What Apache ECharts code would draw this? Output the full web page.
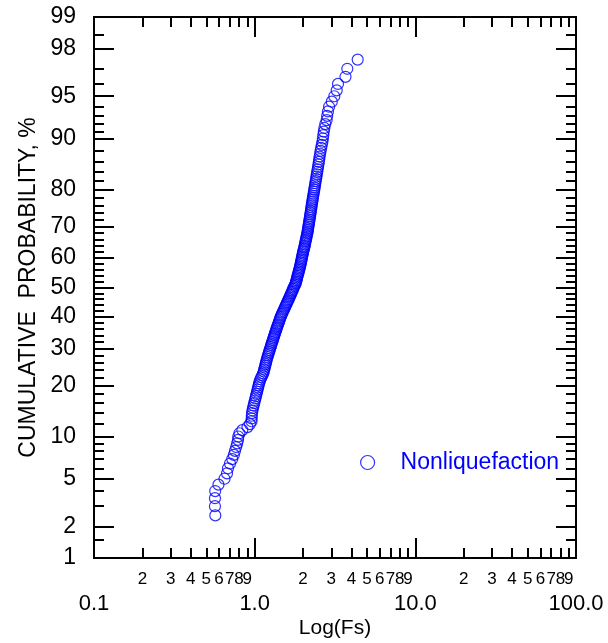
<!DOCTYPE html>
<html><head><meta charset="utf-8">
<script src="https://cdn.jsdelivr.net/npm/echarts@6/dist/echarts.min.js"></script>
<style>html,body{margin:0;padding:0;background:#fff}#c{width:608px;height:643px}</style>
</head><body><div id="c"></div>
<script>
// ---- data ----
const seriesName = 'Nonliquefaction';
const probabilities = [
  2.5,3,3.5,4,4.5,5,5.5,6,6.5,7,
  7.5,8,8.5,9,9.5,10,10.5,11,11.5,12,
  12.5,13,13.5,14,14.5,15,15.5,16,16.5,17,
  17.5,18,18.5,19,19.5,20,20.5,21,21.5,22,
  22.5,23,23.5,24,24.5,25,25.5,26,26.5,27,
  27.5,28,28.5,29,29.5,30,30.5,31,31.5,32,
  32.5,33,33.5,34,34.5,35,35.5,36,36.5,37,
  37.5,38,38.5,39,39.5,40,40.5,41,41.5,42,
  42.5,43,43.5,44,44.5,45,45.5,46,46.5,47,
  47.5,48,48.5,49,49.5,50,
  50.5,51,51.5,52,52.5,53,53.5,54,54.5,55,
  55.5,56,56.5,57,57.5,58,58.5,59,59.5,60,
  60.5,61,61.5,62,62.5,63,63.5,64,64.5,65,
  65.5,66,66.5,67,67.5,68,68.5,69,69.5,70,
  70.5,71,71.5,72,72.5,73,73.5,74,74.5,75,
  75.5,76,76.5,77,77.5,78,78.5,79,79.5,80,
  80.5,81,81.5,82,82.5,83,83.5,84,84.5,85,
  85.5,86,86.5,87,87.5,88,88.5,89,89.5,90,
  90.5,91,91.5,92,92.5,93,93.5,94,94.5,95,
  95.5,96,96.5,97,97.5
];
const fsValues = [
  0.569,0.566,0.566,0.568,0.595,0.649,0.673,0.682,0.702,0.725,
  0.742,0.754,0.767,0.778,0.788,0.791,0.804,0.838,0.902,0.934,
  0.956,0.958,0.960,0.962,0.969,0.976,0.985,0.993,1.002,1.010,
  1.018,1.027,1.035,1.043,1.050,1.058,1.066,1.075,1.086,1.100,
  1.116,1.130,1.140,1.146,1.155,1.163,1.170,1.178,1.185,1.193,
  1.202,1.210,1.221,1.230,1.238,1.249,1.258,1.267,1.276,1.286,
  1.297,1.306,1.316,1.325,1.335,1.344,1.356,1.365,1.375,1.387,
  1.397,1.409,1.419,1.430,1.440,1.450,1.465,1.477,1.492,1.507,
  1.522,1.538,1.551,1.567,1.583,1.597,1.612,1.629,1.643,1.659,
  1.673,1.690,1.705,1.722,1.737,1.747,
  1.770,1.784,1.803,1.811,1.822,1.832,1.840,1.850,1.861,1.872,
  1.883,1.893,1.904,1.912,1.923,1.932,1.940,1.948,1.960,1.965,
  1.974,1.985,1.994,2.002,2.011,2.028,2.037,2.046,2.057,2.066,
  2.075,2.087,2.096,2.105,2.117,2.130,2.135,2.145,2.151,2.160,
  2.169,2.178,2.185,2.194,2.203,2.213,2.219,2.229,2.239,2.248,
  2.255,2.264,2.274,2.284,2.294,2.304,2.314,2.327,2.337,2.351,
  2.361,2.374,2.385,2.398,2.412,2.423,2.437,2.451,2.465,2.479,
  2.494,2.508,2.522,2.537,2.555,2.573,2.592,2.618,2.640,2.659,
  2.674,2.694,2.716,2.752,2.807,2.827,2.860,2.905,3.020,3.130,
  3.240,3.301,3.675,3.771,4.378
];
const yMajorTicks = [1,2,5,10,20,30,40,50,60,70,80,90,95,98,99];
const yMajorLabels = ['1','2','5','10','20','30','40','50','60','70','80','90','95','98','99'];
const yMinorTicks = [1.5,3,4,6,7,8,9,12,14,16,18,22,24,26,28,32,34,36,38,42,44,46,48,
  52,54,56,58,62,64,66,68,72,74,76,78,82,84,86,88,91,92,93,94,96,97,98.5];
const xMajorTicks = [0.1,1,10,100];
const xMajorLabels = ['0.1','1.0','10.0','100.0'];
const xMinorTicks = [0.2,0.3,0.4,0.5,0.6,0.7,0.8,0.9,2,3,4,5,6,7,8,9,20,30,40,50,60,70,80,90];
const xMinorLabels = ['2','3','4','5','6','7','8','9','2','3','4','5','6','7','8','9','2','3','4','5','6','7','8','9'];
const xTitle = 'Log(Fs)';
const yTitle = 'CUMULATIVE  PROBABILITY, %';

// ---- scale helpers (normal-probability and log transforms) ----
function probit(p){
  const a=[-3.969683028665376e+01,2.209460984245205e+02,-2.759285104469687e+02,1.383577518672690e+02,-3.066479806614716e+01,2.506628277459239e+00];
  const b=[-5.447609879822406e+01,1.615858368580409e+02,-1.556989798598866e+02,6.680131188771972e+01,-1.328068155288572e+01];
  const c=[-7.784894002430293e-03,-3.223964580411365e-01,-2.400758277161838e+00,-2.549732539343734e+00,4.374664141464968e+00,2.938163982698783e+00];
  const d=[7.784695709041462e-03,3.224671290700398e-01,2.445134137142996e+00,3.754408661907416e+00];
  const pl=0.02425, ph=1-pl; let q,r;
  if(p<pl){q=Math.sqrt(-2*Math.log(p));return (((((c[0]*q+c[1])*q+c[2])*q+c[3])*q+c[4])*q+c[5])/((((d[0]*q+d[1])*q+d[2])*q+d[3])*q+1);}
  if(p<=ph){q=p-0.5;r=q*q;return (((((a[0]*r+a[1])*r+a[2])*r+a[3])*r+a[4])*r+a[5])*q/(((((b[0]*r+b[1])*r+b[2])*r+b[3])*r+b[4])*r+1);}
  q=Math.sqrt(-2*Math.log(1-p));return -(((((c[0]*q+c[1])*q+c[2])*q+c[3])*q+c[4])*q+c[5])/((((d[0]*q+d[1])*q+d[2])*q+d[3])*q+1);
}
const zOf = p => probit(p/100);
const yMajZ = yMajorTicks.map(zOf), yMinZ = yMinorTicks.map(zOf);
const xMajL = xMajorTicks.map(Math.log10), xMinL = xMinorTicks.map(Math.log10);
const yMin = yMajZ[0], yMax = yMajZ[yMajZ.length-1];
const xMin = xMajL[0], xMax = xMajL[xMajL.length-1];
function lookup(vals, labels){
  return v => { let bi=-1, bd=1e9; for(let i=0;i<vals.length;i++){ const dd=Math.abs(vals[i]-v); if(dd<bd){bd=dd;bi=i;} } return bd<0.01 ? labels[bi] : ''; };
}
// split minor labels into groups so that no two neighbours on one axis touch
const splitAt = 20; // first 20 minor labels on one axis, the rest alternate on two axes
const minorGroupA = xMinL.slice(0, splitAt);
const minorGroupB = xMinL.slice(splitAt).filter((v,i)=>i%2===0);
const minorGroupC = xMinL.slice(splitAt).filter((v,i)=>i%2===1);

const FONT = 'Arial, "Liberation Sans", sans-serif';
const lineS = {color:'#000', width:2};
function xAx(pos, ticks, len, labelVals, extra){
  return Object.assign({
    type:'value', position:pos, min:xMin, max:xMax,
    axisLine:{show:true, onZero:false, lineStyle:lineS},
    axisTick: ticks ? {show:true, inside:true, length:len, customValues:ticks, lineStyle:lineS} : {show:false},
    axisLabel: labelVals ? {show:true, customValues:labelVals, hideOverlap:false, showMinLabel:true, showMaxLabel:true, color:'#000', fontFamily:FONT} : {show:false},
    splitLine:{show:false}
  }, extra||{});
}
function yAx(pos, ticks, len, labelVals, extra){
  return Object.assign({
    type:'value', position:pos, min:yMin, max:yMax,
    axisLine:{show:true, onZero:false, lineStyle:lineS},
    axisTick:{show:true, inside:true, length:len, customValues:ticks, lineStyle:lineS},
    axisLabel: labelVals ? {show:true, customValues:labelVals, formatter:lookup(yMajZ, yMajorLabels), hideOverlap:false, showMinLabel:true, showMaxLabel:true, color:'#000', fontFamily:FONT} : {show:false},
    splitLine:{show:false}
  }, extra||{});
}
const minorFmt = lookup(xMinL, xMinorLabels);
function minorLabelAxis(ticks, vals){
  const ax = xAx('bottom', ticks, 10, vals);
  ax.axisLabel.formatter = minorFmt; ax.axisLabel.fontSize = 17; ax.axisLabel.margin = 13;
  return ax;
}
const xa0 = minorLabelAxis(xMinL, minorGroupA);
const xa4 = minorLabelAxis(null, minorGroupB);
const xa5 = minorLabelAxis(null, minorGroupC);
const xa1 = xAx('bottom', xMajL, 20, xMajL, {
  name:xTitle, nameLocation:'middle', nameGap:60, nameMoveOverlap:false,
  nameTextStyle:{fontSize:21, color:'#000', fontFamily:FONT}
});
xa1.axisLabel.formatter = lookup(xMajL, xMajorLabels);
xa1.axisLabel.fontSize = 22; xa1.axisLabel.margin = 35;
const xa2 = xAx('top', xMinL, 10, null);
const xa3 = xAx('top', xMajL, 20, null);

const ya0 = yAx('left', yMinZ, 10, null);
const ya1 = yAx('left', yMajZ, 20, yMajZ, {
  name:yTitle, nameLocation:'middle', nameGap:54, nameMoveOverlap:false,
  nameTextStyle:{fontSize:23, color:'#000', fontFamily:FONT}
});
ya1.axisLabel.fontSize = 23; ya1.axisLabel.margin = 18;
const ya2 = yAx('right', yMinZ, 10, null);
const ya3 = yAx('right', yMajZ, 20, null);

const blueStyle = {color:'rgba(0,0,0,0)', borderColor:'#0000ff', borderWidth:1.2};
const chart = echarts.init(document.getElementById('c'), null, {renderer:'canvas'});
chart.setOption({
  animation:false,
  backgroundColor:'#fff',
  grid:{left:94, right:32, top:17, bottom:85, containLabel:false, outerBoundsMode:'none'},
  xAxis:[xa0, xa1, xa2, xa3, xa4, xa5],
  yAxis:[ya0, ya1, ya2, ya3],
  legend:{
    show:true, left:360, top:451, padding:0, itemWidth:56, itemHeight:14,
    data:[{name:seriesName, icon:'circle', itemStyle:blueStyle}],
    textStyle:{color:'#0000ff', fontSize:23, fontFamily:FONT},
    selectedMode:false
  },
  series:[{
    type:'scatter', name:seriesName, xAxisIndex:0, yAxisIndex:0,
    symbol:'circle', symbolSize:11, silent:true,
    itemStyle:blueStyle,
    emphasis:{disabled:true},
    data: fsValues.map((v,i)=>[Math.log10(v), zOf(probabilities[i])])
  }]
});
</script></body></html>
